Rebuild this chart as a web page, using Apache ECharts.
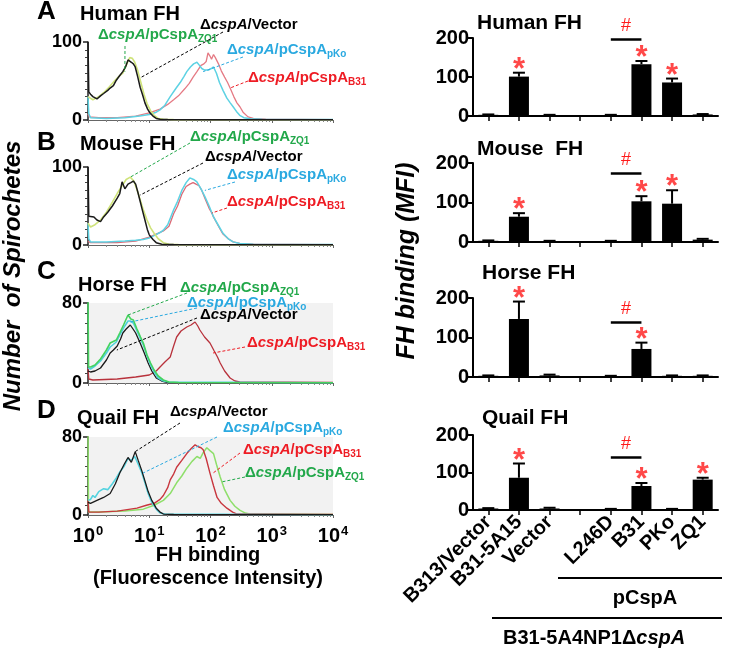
<!DOCTYPE html>
<html><head><meta charset="utf-8">
<script src="https://cdn.jsdelivr.net/npm/echarts@6/dist/echarts.min.js"></script>
<style>html,body{margin:0;padding:0;background:#fff}#c{width:737px;height:650px}</style>
</head><body><div id="c"></div>
<script>
// ---------------- DATA ----------------
// Flow cytometry histograms: [fluorescence intensity, count]
const vecA = [[1,100],[1.03,36],[1.1,33],[1.2,30],[1.4,27],[1.6,31],[1.8,34],[2.1,38],[2.3,41],[2.6,44],[2.9,51],[3.3,57],[3.7,62],[4.1,68],[4.5,77],[4.8,76],[5.1,74],[5.5,72],[5.9,68],[6.5,55],[7.1,42],[7.8,32],[8.5,22],[9.4,14],[10.3,9],[11.5,5],[13,2],[15,1],[20,0.5],[100,0.3],[10000,0.3]];
const zq1A = [[1,30],[1.05,28],[1.2,26],[1.5,30],[1.8,35],[2.2,42],[2.7,50],[3.2,56],[3.7,60],[4.2,70],[4.8,80],[5.3,79],[5.8,74],[6.5,63],[7.3,48],[8.2,33],[9.2,21],[10.5,12],[12,6],[14,2],[17,1],[25,0.5],[10000,0.3]];
const pkoA = [[1,30],[1.03,8],[1.1,3],[2,2],[4,3],[7,5],[10,7],[13,10],[15,13],[18,19],[22,30],[27,40],[32,48],[37,56],[41,62],[47,68],[53,72],[60,74],[66,70],[72,66],[80,64],[92,64],[103,66],[112,68],[125,60],[140,48],[160,38],[185,28],[210,22],[234,17],[265,11],[300,6],[350,3],[450,1.5],[700,1],[10000,0.5]];
const b31A = [[1,8],[1.05,4],[1.5,3],[3,3],[6,5],[10,9],[15,14],[20,20],[25,26],[30,31],[38,40],[45,47],[52,55],[60,62],[70,70],[78,72],[85,75],[91,86],[98,82],[104,78],[112,84],[120,80],[135,72],[150,63],[170,55],[190,48],[209,41],[240,30],[270,22],[302,17],[340,10],[410,4],[500,2],[800,1],[10000,0.5]];

const vecB = [[1,100],[1.03,37],[1.1,35],[1.25,36],[1.4,32],[1.6,30],[1.8,36],[2.1,42],[2.5,50],[3.0,60],[3.3,66],[3.6,81],[4.0,72],[4.5,78],[5.0,80],[5.5,82],[6.0,78],[6.5,68],[7.0,58],[7.7,45],[8.5,32],[9.3,20],[10,13],[11.5,7],[13,3],[16,1],[25,0.5],[10000,0.3]];
const zq1B = [[1,28],[1.1,23],[1.3,26],[1.6,32],[2,42],[2.5,55],[3,66],[3.6,76],[4.2,84],[4.9,87],[5.6,82],[6.5,68],[7.3,55],[8,45],[9.2,32],[10.5,22],[12,15],[14,8],[17,3],[21,1],[30,0.5],[10000,0.3]];
const pkoB = [[1,28],[1.03,8],[1.1,4],[2,4],[4,5],[6,6],[8,7],[10,9],[12,12],[15,16],[17,19],[20,26],[25,45],[29,56],[34,70],[40,80],[46,86],[53,84],[60,81],[70,72],[81,62],[95,50],[112,36],[135,25],[160,15],[195,8],[234,4],[300,2],[500,1],[10000,0.5]];
const b31B = [[1,5],[1.1,3],[3,3],[6,5],[10,10],[13,14],[17,18],[21,24],[25,40],[29,50],[34,65],[40,75],[46,78],[52,80],[58,78],[65,76],[72,70],[81,60],[95,47],[105,41],[112,36],[135,24],[160,14],[195,8],[234,4],[300,2],[500,1],[10000,0.5]];

const vecC = [[1,12],[1.1,11],[1.3,12],[1.6,15],[2,23],[2.3,30],[2.6,33],[3,37],[3.4,44],[3.7,50],[4.2,54],[4.9,58],[5.3,55],[6,50],[7.1,40],[8.3,30],[9.6,20],[11,12],[13,5],[16,2],[20,0.5],[10000,0.3]];
const zq1C = [[1,90],[1.02,16],[1.1,16],[1.3,18],[1.6,24],[2,33],[2.3,40],[2.9,43],[3.3,50],[3.8,58],[4.5,68],[5,64],[5.5,63],[6.3,54],[7.2,46],[8,40],[9.2,28],[10.5,20],[12,13],[14,7],[17,3],[21,1],[30,0.5],[10000,0.3]];
const pkoC = [[1,15],[1.1,14],[1.3,17],[1.6,22],[2,30],[2.3,36],[2.9,41],[3.3,48],[3.8,55],[4.5,62],[4.9,62],[5.5,60],[6.3,52],[7.2,44],[8,38],[9.2,27],[10.5,18],[12,11],[14,5],[17,2],[21,1],[10000,0.3]];
const b31C = [[1,15],[1.03,4],[1.2,3],[3,4],[6,6],[10,8],[13,12],[15,16],[18,21],[22,26],[25,37],[28,46],[33,52],[41,56],[48,58],[56,61],[62,57],[67,53],[80,46],[98,40],[115,32],[130,26],[144,20],[170,12],[209,5],[250,2],[300,1],[10000,0.5]];

const vecD = [[1,13],[1.1,12],[1.4,15],[1.8,18],[2.3,22],[2.8,32],[3.3,43],[3.9,52],[4.5,59],[5.1,54],[5.9,65],[6.6,56],[7.5,46],[8.5,35],[9.6,24],[11,15],[13,7],[15,3],[17,1],[25,0.5],[10000,0.3]];
const pkoD = [[1,15],[1.1,16],[1.2,20],[1.3,18],[1.5,24],[1.8,27],[2.1,26],[2.5,32],[2.9,38],[3.3,44],[3.9,50],[4.5,58],[5.1,56],[5.8,60],[6.6,52],[7.5,44],[8.5,33],[9.6,22],[11,13],[13,6],[15,2],[18,1],[10000,0.3]];
const b31D = [[1,15],[1.03,3],[1.5,3],[3,4],[6.3,7],[9,10],[12,12],[15,16],[17,20],[20,28],[22,36],[25,42],[28,49],[34,56],[41,63],[48,68],[56,72],[63,70],[70,69],[76,67],[85,58],[98,43],[112,30],[128,18],[150,12],[185,7],[230,3],[270,1],[10000,0.5]];
const zq1D = [[1,90],[1.02,3],[1.5,3],[4,4],[8,6],[12,10],[17,15],[22,22],[28,33],[34,40],[41,48],[50,55],[60,60],[68,58],[76,64],[87,69],[98,66],[112,63],[125,52],[144,39],[170,26],[209,15],[250,9],[300,5],[370,2],[440,1],[10000,0.5]];

const histTitles = ['Human FH', 'Mouse FH', 'Horse FH', 'Quail FH'];
const histLetters = ['A', 'B', 'C', 'D'];
const histYMax = [100, 100, 80, 80];

// Bar charts (FH binding, MFI)
const categories = ['B313/Vector', 'B31-5A15', 'Vector', '', 'L246D', 'B31', 'PKo', 'ZQ1'];
const humanMean = [3, 101, 2, null, 2, 133, 86, 4];
const humanErr  = [1, 10, 1, null, 1, 8, 10, 1];
const mouseMean = [3, 64, 2, null, 2, 103, 97, 6];
const mouseErr  = [1, 9, 1, null, 1, 13, 34, 2];
const horseMean = [3, 147, 4, null, 2, 71, 3, 3];
const horseErr  = [1, 44, 2, null, 1, 16, 1, 1];
const quailMean = [4, 86, 4, null, 2, 64, 2, 81];
const quailErr  = [1, 38, 2, null, 1, 8, 1, 5];
const humanSig = [0, 1, 0, 0, 0, 1, 1, 0];
const mouseSig = [0, 1, 0, 0, 0, 1, 1, 0];
const horseSig = [0, 1, 0, 0, 0, 1, 0, 0];
const quailSig = [0, 1, 0, 0, 0, 1, 0, 1];
const hashLevel = [198, 175, 139, 140];
const barTitles = ['Human FH', 'Mouse  FH', 'Horse FH', 'Quail FH'];
const barYTicks = [0, 100, 200];

// ---------------- STYLE / LAYOUT ----------------
const FONT = 'Arial, "Liberation Sans", Helvetica, sans-serif';
const GREEN = '#22a84a', BLUE = '#2aa9e0', RED = '#ee1c24', STAR = '#ff1a1a';
const curveSets = [
  {vec: vecA, zq1: zq1A, pko: pkoA, b31: b31A, cz: '#cfe37a', cb: '#5dd2e3', cr: '#e57a84'},
  {vec: vecB, zq1: zq1B, pko: pkoB, b31: b31B, cz: '#cfe37a', cb: '#5dd2e3', cr: '#dc6a76'},
  {vec: vecC, zq1: zq1C, pko: pkoC, b31: b31C, cz: '#45d35e', cb: '#4fd0dc', cr: '#b8323c'},
  {vec: vecD, zq1: zq1D, pko: pkoD, b31: b31D, cz: '#8edf6a', cb: '#55d3e0', cr: '#c8363e'}
];
const histTop = [42, 167, 303, 437], histBottom = [120, 245, 383, 515];
const barTop = [38, 163, 298, 435], barBottom = [116, 242, 377, 510];
const HL = 88, HW = 245, BL = 473, BW = 245;

const chart = echarts.init(document.getElementById('c'), null, {renderer: 'canvas'});

const grids = [], xAxes = [], yAxes = [], series = [];
for (let i = 0; i < 4; i++) {
  grids.push({left: HL, width: HW, top: histTop[i], height: histBottom[i] - histTop[i],
    outerBoundsMode: 'none', containLabel: false,
    show: i >= 2, backgroundColor: '#f2f2f2', borderWidth: 0});
  xAxes.push({type: 'log', logBase: 10, gridIndex: i, min: 1, max: 10000,
    axisLine: {show: true, lineStyle: {color: '#666', width: 1}},
    axisTick: {show: true, length: 3, lineStyle: {color: '#666'}},
    minorTick: {show: true, splitNumber: 9, length: 2, lineStyle: {color: '#888'}},
    splitLine: {show: false},
    axisLabel: {show: i === 3, margin: 10, color: '#000', fontFamily: FONT, fontWeight: 'bold', fontSize: 20,
      formatter: v => '10{s|' + Math.round(Math.log10(v)) + '}',
      rich: {s: {fontSize: 13, fontWeight: 'bold', fontFamily: FONT, color: '#000', padding: [0, 0, 10, 1]}}}
  });
  yAxes.push({type: 'value', gridIndex: i, min: 0, max: histYMax[i], interval: histYMax[i],
    axisLine: {show: true, lineStyle: {color: '#222', width: 1.5}},
    axisTick: {show: true, length: 5, lineStyle: {color: '#222', width: 1.5}},
    minorTick: {show: true, splitNumber: histYMax[i] / 10, length: 3, lineStyle: {color: '#444'}},
    splitLine: {show: false},
    axisLabel: {color: '#000', fontFamily: FONT, fontWeight: 'bold', fontSize: 18, margin: 6}
  });
  const cs = curveSets[i];
  const mk = (d, col, w, z) => ({type: 'line', xAxisIndex: i, yAxisIndex: i, data: d, showSymbol: false,
    symbol: 'none', smooth: false, clip: true, z: z, lineStyle: {color: col, width: w}, animation: false});
  if (i < 2) {
    series.push(mk(cs.b31, cs.cr, 1.3, 2), mk(cs.pko, cs.cb, 1.5, 3), mk(cs.zq1, cs.cz, 1.6, 4), mk(cs.vec, '#1a1a1a', 1.5, 5));
  } else if (i === 2) {
    series.push(mk(cs.b31, cs.cr, 1.3, 2), mk(cs.vec, '#1a1a1a', 1.3, 3), mk(cs.pko, cs.cb, 1.6, 4), mk(cs.zq1, cs.cz, 1.6, 5));
  } else {
    series.push(mk(cs.zq1, cs.cz, 1.5, 2), mk(cs.b31, cs.cr, 1.4, 3), mk(cs.pko, cs.cb, 1.6, 4), mk(cs.vec, '#1a1a1a', 1.3, 5));
  }
}

const means = [humanMean, mouseMean, horseMean, quailMean];
const errs = [humanErr, mouseErr, horseErr, quailErr];
const sigs = [humanSig, mouseSig, horseSig, quailSig];
for (let k = 0; k < 4; k++) {
  const gi = 4 + k;
  grids.push({left: BL, width: BW, top: barTop[k], height: barBottom[k] - barTop[k], outerBoundsMode: 'none', containLabel: false});
  xAxes.push({type: 'category', gridIndex: gi, data: categories, boundaryGap: true,
    axisLine: {show: true, lineStyle: {color: '#000', width: 2}},
    axisTick: {show: true, alignWithLabel: true, interval: 0, length: 5, lineStyle: {color: '#000', width: 1.5}},
    splitLine: {show: false},
    axisLabel: {show: k === 3, interval: 0, rotate: 45, margin: 9, color: '#000', fontFamily: FONT, fontWeight: 'bold', fontSize: 20}
  });
  yAxes.push({type: 'value', gridIndex: gi, min: barYTicks[0], max: barYTicks[barYTicks.length - 1], interval: barYTicks[1] - barYTicks[0],
    axisLine: {show: true, lineStyle: {color: '#000', width: 2}},
    axisTick: {show: true, length: 5, lineStyle: {color: '#000', width: 2}},
    splitLine: {show: false},
    axisLabel: {color: '#000', fontFamily: FONT, fontWeight: 'bold', fontSize: 20, margin: 4}
  });
  const m = means[k], e = errs[k], s = sigs[k];
  series.push({type: 'bar', xAxisIndex: gi, yAxisIndex: gi, data: m, barWidth: 20,
    itemStyle: {color: '#000'}, animation: false, z: 2,
    markLine: {silent: true, symbol: ['none', 'none'], animation: false,
      lineStyle: {color: '#000', width: 2.5, type: 'solid'},
      label: {show: true, position: 'insideMiddleTop', distance: 4, formatter: '#', color: STAR, fontFamily: FONT, fontSize: 18, fontWeight: 'normal'},
      data: [[{xAxis: 'L246D', yAxis: hashLevel[k]}, {xAxis: 'B31', yAxis: hashLevel[k]}]]}
  });
  const errData = [];
  m.forEach((v, i) => { if (v != null) errData.push([i, v, e[i]]); });
  series.push({type: 'custom', xAxisIndex: gi, yAxisIndex: gi, data: errData, z: 3, animation: false, clip: false,
    renderItem: (params, api) => {
      const x = api.value(0), mv = api.value(1), ev = api.value(2);
      const p0 = api.coord([x, mv]), p1 = api.coord([x, mv + ev]);
      return {type: 'group', children: [
        {type: 'line', shape: {x1: p0[0], y1: p0[1], x2: p1[0], y2: p1[1]}, style: {stroke: '#000', lineWidth: 2}},
        {type: 'line', shape: {x1: p1[0] - 6, y1: p1[1], x2: p1[0] + 6, y2: p1[1]}, style: {stroke: '#000', lineWidth: 2}}
      ]};
    }
  });
  const starData = [];
  m.forEach((v, i) => { if (s[i]) starData.push([i, v + e[i]]); });
  series.push({type: 'scatter', xAxisIndex: gi, yAxisIndex: gi, data: starData, symbolSize: 0, clip: false, z: 4, animation: false,
    label: {show: true, position: 'top', distance: 0, offset: [0, 13], formatter: '*', color: STAR, fontFamily: FONT, fontWeight: 'bold', fontSize: 31}
  });
}

chart.setOption({animation: false, backgroundColor: '#fff', grid: grids, xAxis: xAxes, yAxis: yAxes, series: series});

// ---------------- ANNOTATIONS ----------------
const g = [];
const txt = (x, y, text, size, opts) => g.push(Object.assign({type: 'text', x: x, y: y, z: 10,
  style: Object.assign({text: text, fill: '#000', font: 'bold ' + size + 'px ' + FONT, align: 'left', verticalAlign: 'middle'}, (opts && opts.style) || {})},
  (opts && opts.el) || {}));
const line = (x1, y1, x2, y2, stroke, w, dash) => g.push({type: 'line', z: 10, shape: {x1, y1, x2, y2},
  style: {stroke: stroke, lineWidth: w, lineDash: dash || null}});

const letterY = [12, 143, 272, 411], titleY = [14, 144, 285, 418], titleX = [80, 80, 78, 77];
for (let i = 0; i < 4; i++) {
  txt(37, letterY[i], histLetters[i], 26);
  txt(titleX[i], titleY[i], histTitles[i], 20);
}
const barTitleX = [477, 477, 482, 482], barTitleY = [23, 149, 273, 418];
for (let k = 0; k < 4; k++) txt(barTitleX[k], barTitleY[k], barTitles[k], 21);

const richFor = col => ({
  a: {fill: col, font: 'bold 15px ' + FONT},
  i: {fill: col, font: 'italic bold 15px ' + FONT},
  s: {fill: col, font: 'bold 10px ' + FONT, padding: [8, 0, 0, 0]}
});
const legendLabel = (x, y, kind, col) => {
  const t = kind === 'Vector' ? '{a|Δ}{i|cspA}{a|/Vector}' : '{a|Δ}{i|cspA}{a|/pCspA}{s|' + kind + '}';
  g.push({type: 'text', x: x, y: y, z: 10, style: {text: t, rich: richFor(col), fill: col, font: 'bold 15px ' + FONT, align: 'left', verticalAlign: 'middle'}});
};
// legend labels & leader targets (data coords on the curves)
const labels = [
  {g: 0, kind: 'ZQ1', col: GREEN, pos: [98, 35], from: [125, 46], to: [4.0, 62]},
  {g: 0, kind: 'Vector', col: '#000', pos: [200, 25], from: [223, 32], to: [7.1, 54]},
  {g: 0, kind: 'pKo', col: BLUE, pos: [227, 50], from: [243, 57], to: [76, 62]},
  {g: 0, kind: 'B31', col: RED, pos: [248, 78], from: [248, 81], to: [209, 41]},
  {g: 1, kind: 'ZQ1', col: GREEN, pos: [190, 137], from: [190, 143], to: [4.9, 87]},
  {g: 1, kind: 'Vector', col: '#000', pos: [205, 157], from: [203, 163], to: [7.1, 64]},
  {g: 1, kind: 'pKo', col: BLUE, pos: [227, 175], from: [235, 182], to: [81, 70]},
  {g: 1, kind: 'B31', col: RED, pos: [227, 202], from: [227, 208], to: [105, 41]},
  {g: 2, kind: 'ZQ1', col: GREEN, pos: [180, 288], from: [187, 293], to: [4.5, 68]},
  {g: 2, kind: 'pKo', col: BLUE, pos: [187, 303], from: [197, 308], to: [4.9, 61]},
  {g: 2, kind: 'Vector', col: '#000', pos: [200, 315], from: [197, 318], to: [2.96, 33]},
  {g: 2, kind: 'B31', col: RED, pos: [247, 343], from: [245, 347], to: [110, 30]},
  {g: 3, kind: 'Vector', col: '#000', pos: [170, 412], from: [180, 423], to: [5.9, 65]},
  {g: 3, kind: 'pKo', col: BLUE, pos: [223, 428], from: [217, 437], to: [7.9, 43]},
  {g: 3, kind: 'B31', col: RED, pos: [243, 450], from: [240, 453], to: [110, 43]},
  {g: 3, kind: 'ZQ1', col: GREEN, pos: [245, 473], from: [245, 477], to: [155, 34]}
];
labels.forEach(L => {
  legendLabel(L.pos[0], L.pos[1], L.kind, L.col);
  const p = chart.convertToPixel({xAxisIndex: L.g, yAxisIndex: L.g}, L.to);
  line(L.from[0], L.from[1], p[0], p[1], L.col, 1, [3, 2]);
});

// axis titles
txt(13, 276, 'Number  of Spirochetes', 24, {el: {rotation: Math.PI / 2}, style: {align: 'center', font: 'italic bold 24px ' + FONT}});
txt(407, 261, 'FH binding (MFI)', 25, {el: {rotation: Math.PI / 2}, style: {align: 'center', font: 'italic bold 25px ' + FONT}});
txt(208, 555, 'FH binding', 20, {style: {align: 'center'}});
txt(208, 578, '(Fluorescence Intensity)', 20, {style: {align: 'center'}});

// group brackets
line(558, 578, 722, 578, '#000', 2);
txt(645, 598, 'pCspA', 20, {style: {align: 'center'}});
line(492, 618, 722, 618, '#000', 2);
g.push({type: 'text', x: 503, y: 638, z: 10, style: {text: '{a|B31-5A4NP1Δ}{i|cspA}',
  rich: {a: {fill: '#000', font: 'bold 20px ' + FONT}, i: {fill: '#000', font: 'italic bold 20px ' + FONT}},
  font: 'bold 20px ' + FONT, align: 'left', verticalAlign: 'middle'}});

chart.setOption({graphic: {elements: g}});
</script></body></html>
